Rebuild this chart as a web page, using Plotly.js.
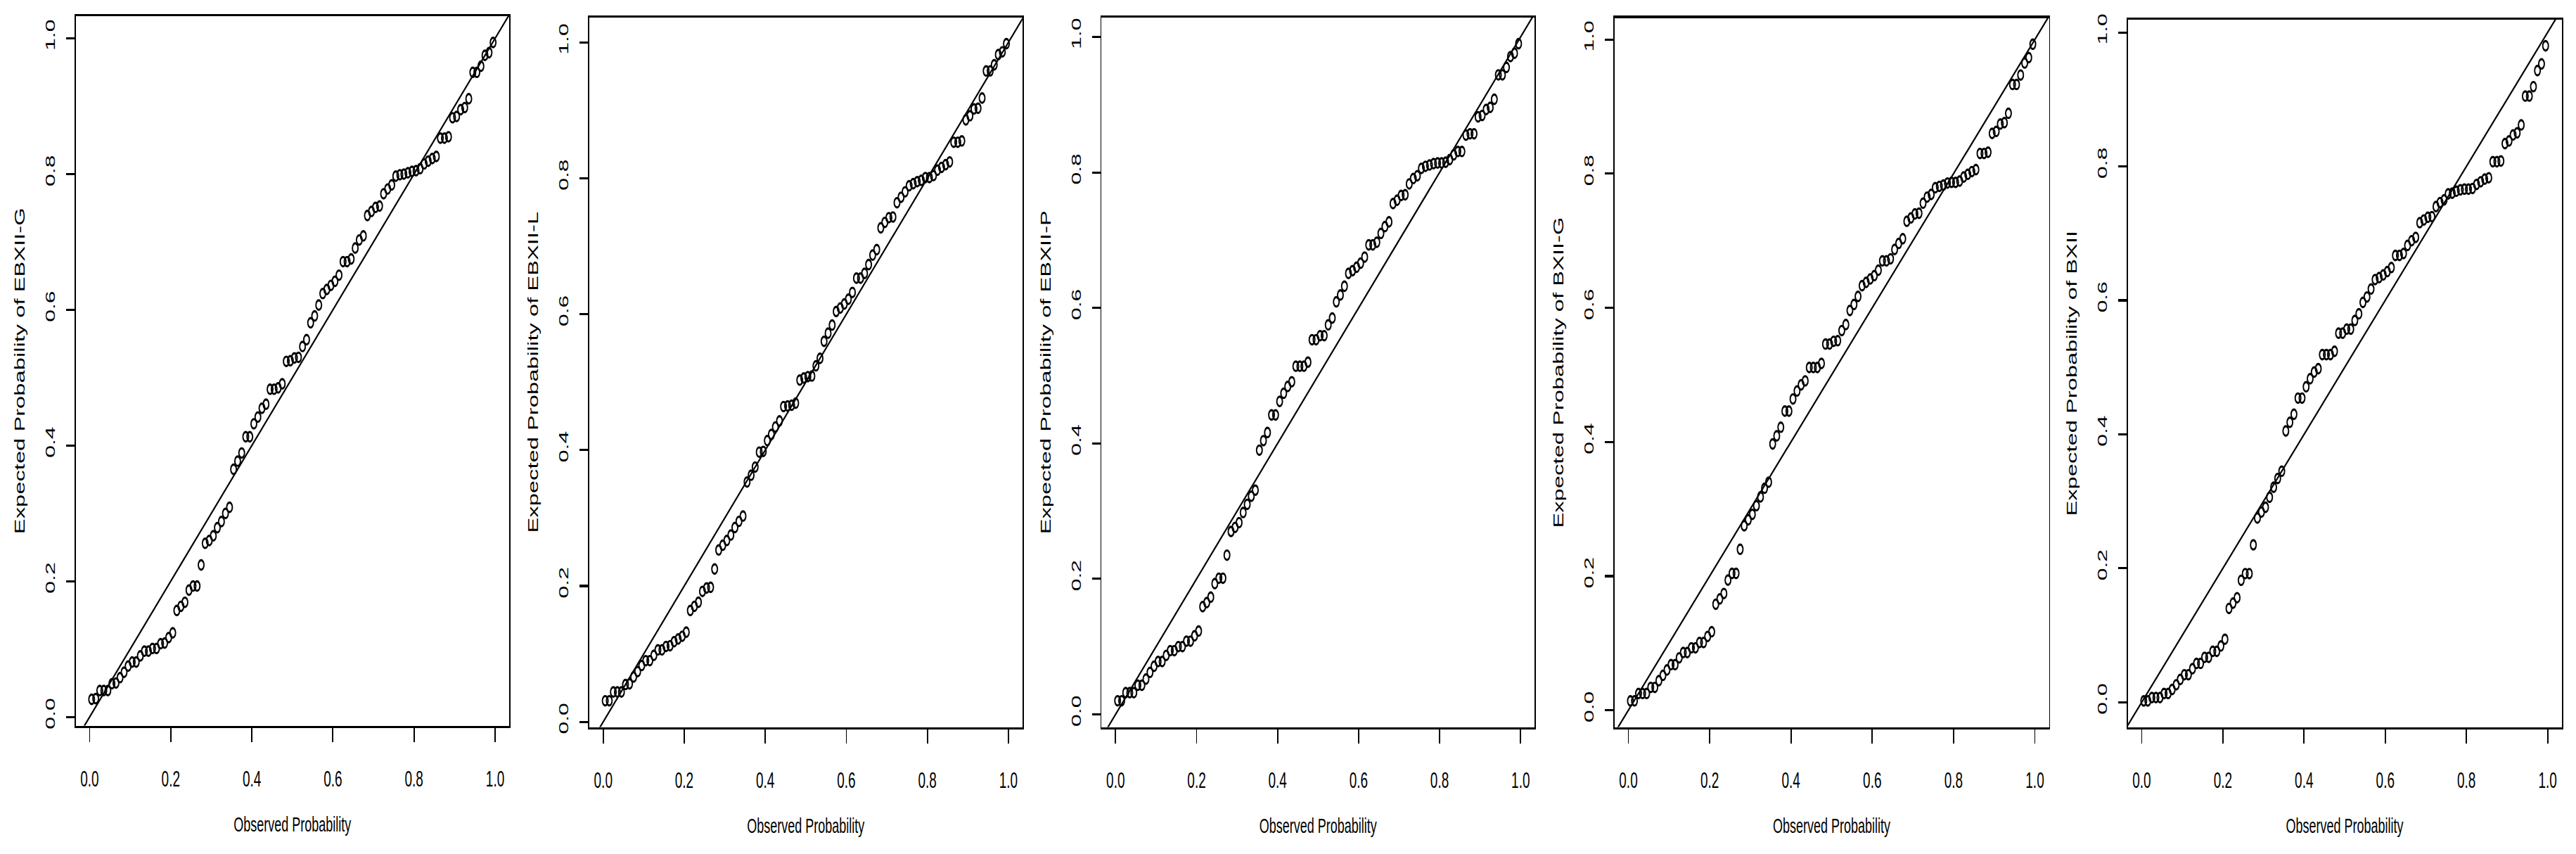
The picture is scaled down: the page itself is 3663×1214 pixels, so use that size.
<!DOCTYPE html>
<html>
<head>
<meta charset="utf-8">
<script src="https://cdn.plot.ly/plotly-3.0.1.min.js"></script>
<style>
  html, body { margin: 0; padding: 0; background: #fff; width: 3663px; height: 1214px; }
  #chart { width: 3663px; height: 723px; transform-origin: 0 0; }
</style>
</head>
<body>
<div id="chart"></div>
<script>
// observed probabilities (plotting positions of the sorted sample)
const observed = [
  0.005, 0.015, 0.025, 0.035, 0.045, 0.055, 0.065, 0.075, 0.085, 0.095,
  0.105, 0.115, 0.125, 0.135, 0.145, 0.155, 0.165, 0.175, 0.185, 0.195,
  0.205, 0.215, 0.225, 0.235, 0.245, 0.255, 0.265, 0.275, 0.285, 0.295,
  0.305, 0.315, 0.325, 0.335, 0.345, 0.355, 0.365, 0.375, 0.385, 0.395,
  0.405, 0.415, 0.425, 0.435, 0.445, 0.455, 0.465, 0.475, 0.485, 0.495,
  0.505, 0.515, 0.525, 0.535, 0.545, 0.555, 0.565, 0.575, 0.585, 0.595,
  0.605, 0.615, 0.625, 0.635, 0.645, 0.655, 0.665, 0.675, 0.685, 0.695,
  0.705, 0.715, 0.725, 0.735, 0.745, 0.755, 0.765, 0.775, 0.785, 0.795,
  0.805, 0.815, 0.825, 0.835, 0.845, 0.855, 0.865, 0.875, 0.885, 0.895,
  0.905, 0.915, 0.925, 0.935, 0.945, 0.955, 0.965, 0.975, 0.985, 0.995
];

// expected probabilities under each fitted model
const ebxiiG = [
  0.026, 0.027, 0.039, 0.039, 0.039, 0.049, 0.050, 0.058, 0.066, 0.075,
  0.081, 0.081, 0.090, 0.097, 0.097, 0.101, 0.101, 0.108, 0.109, 0.117,
  0.124, 0.157, 0.163, 0.169, 0.187, 0.193, 0.193, 0.224, 0.256, 0.260,
  0.267, 0.279, 0.288, 0.300, 0.309, 0.365, 0.377, 0.389, 0.413, 0.413,
  0.432, 0.442, 0.455, 0.461, 0.483, 0.483, 0.485, 0.491, 0.524, 0.525,
  0.529, 0.530, 0.546, 0.556, 0.581, 0.591, 0.607, 0.624, 0.630, 0.636,
  0.642, 0.651, 0.671, 0.671, 0.675, 0.691, 0.703, 0.709, 0.739, 0.745,
  0.751, 0.753, 0.771, 0.778, 0.784, 0.797, 0.799, 0.800, 0.802, 0.804,
  0.805, 0.808, 0.815, 0.819, 0.823, 0.826, 0.853, 0.853, 0.855, 0.883,
  0.885, 0.895, 0.898, 0.911, 0.950, 0.950, 0.959, 0.975, 0.979, 0.994
];
const ebxiiL = [
  0.031, 0.031, 0.044, 0.044, 0.044, 0.055, 0.056, 0.066, 0.074, 0.083,
  0.090, 0.090, 0.098, 0.106, 0.106, 0.111, 0.112, 0.118, 0.122, 0.126,
  0.132, 0.164, 0.170, 0.176, 0.192, 0.197, 0.198, 0.225, 0.253, 0.260,
  0.267, 0.275, 0.286, 0.295, 0.303, 0.353, 0.363, 0.375, 0.397, 0.398,
  0.414, 0.423, 0.434, 0.443, 0.464, 0.465, 0.466, 0.469, 0.503, 0.506,
  0.508, 0.509, 0.524, 0.535, 0.560, 0.572, 0.584, 0.604, 0.609, 0.615,
  0.622, 0.632, 0.653, 0.653, 0.660, 0.673, 0.687, 0.695, 0.727, 0.735,
  0.742, 0.743, 0.764, 0.772, 0.780, 0.789, 0.792, 0.795, 0.797, 0.801,
  0.801, 0.804, 0.812, 0.816, 0.820, 0.824, 0.853, 0.853, 0.855, 0.886,
  0.892, 0.902, 0.903, 0.918, 0.958, 0.958, 0.967, 0.982, 0.986, 0.998
];
const ebxiiP = [
  0.020, 0.020, 0.032, 0.032, 0.032, 0.043, 0.043, 0.052, 0.062, 0.071,
  0.078, 0.078, 0.087, 0.094, 0.094, 0.100, 0.100, 0.108, 0.108, 0.116,
  0.123, 0.159, 0.165, 0.173, 0.193, 0.201, 0.201, 0.235, 0.270, 0.276,
  0.283, 0.298, 0.310, 0.322, 0.331, 0.390, 0.404, 0.416, 0.442, 0.442,
  0.462, 0.474, 0.484, 0.491, 0.514, 0.514, 0.514, 0.520, 0.553, 0.553,
  0.559, 0.559, 0.575, 0.585, 0.609, 0.619, 0.632, 0.651, 0.655, 0.660,
  0.666, 0.675, 0.693, 0.693, 0.697, 0.710, 0.720, 0.727, 0.754, 0.759,
  0.766, 0.767, 0.783, 0.791, 0.795, 0.806, 0.809, 0.811, 0.813, 0.814,
  0.814, 0.815, 0.819, 0.826, 0.831, 0.831, 0.855, 0.857, 0.857, 0.882,
  0.884, 0.893, 0.896, 0.908, 0.944, 0.944, 0.955, 0.971, 0.976, 0.990
];
const bxiiG = [
  0.014, 0.014, 0.025, 0.025, 0.025, 0.034, 0.034, 0.044, 0.052, 0.060,
  0.068, 0.068, 0.078, 0.086, 0.086, 0.093, 0.093, 0.101, 0.101, 0.110,
  0.117, 0.158, 0.166, 0.174, 0.194, 0.204, 0.204, 0.240, 0.275, 0.284,
  0.292, 0.305, 0.318, 0.331, 0.340, 0.397, 0.409, 0.422, 0.446, 0.446,
  0.464, 0.476, 0.485, 0.491, 0.511, 0.511, 0.511, 0.517, 0.546, 0.546,
  0.550, 0.551, 0.566, 0.575, 0.596, 0.605, 0.617, 0.633, 0.638, 0.643,
  0.648, 0.656, 0.670, 0.670, 0.673, 0.687, 0.696, 0.703, 0.729, 0.734,
  0.740, 0.741, 0.756, 0.765, 0.769, 0.779, 0.781, 0.783, 0.786, 0.787,
  0.787, 0.789, 0.795, 0.799, 0.803, 0.806, 0.830, 0.830, 0.832, 0.860,
  0.863, 0.874, 0.876, 0.890, 0.933, 0.933, 0.947, 0.965, 0.973, 0.993
];
const bxii = [
  0.002, 0.002, 0.007, 0.007, 0.007, 0.013, 0.013, 0.019, 0.026, 0.034,
  0.041, 0.041, 0.050, 0.058, 0.058, 0.067, 0.067, 0.076, 0.076, 0.084,
  0.094, 0.140, 0.148, 0.156, 0.182, 0.192, 0.192, 0.235, 0.275, 0.284,
  0.291, 0.306, 0.321, 0.334, 0.345, 0.405, 0.418, 0.430, 0.454, 0.454,
  0.471, 0.483, 0.493, 0.498, 0.519, 0.519, 0.519, 0.524, 0.551, 0.551,
  0.557, 0.557, 0.570, 0.580, 0.597, 0.605, 0.617, 0.631, 0.634, 0.638,
  0.643, 0.649, 0.667, 0.667, 0.670, 0.682, 0.689, 0.694, 0.716, 0.720,
  0.724, 0.725, 0.740, 0.746, 0.750, 0.759, 0.760, 0.763, 0.765, 0.766,
  0.766, 0.767, 0.773, 0.777, 0.781, 0.783, 0.807, 0.807, 0.808, 0.834,
  0.838, 0.847, 0.850, 0.862, 0.905, 0.905, 0.919, 0.943, 0.953, 0.980
];

const models = ["EBXII-G", "EBXII-L", "EBXII-P", "BXII-G", "BXII"];
const expected = [ebxiiG, ebxiiL, ebxiiP, bxiiG, bxii];

const tickVals = [0, 0.2, 0.4, 0.6, 0.8, 1];
const tickText = ["0.0", "0.2", "0.4", "0.6", "0.8", "1.0"];

// the reference is an R device picture stretched vertically,
// so draw it 723px tall and scale it up to 1214px afterwards
const W = 3663, H = 723, FULL_H = 1214, K = FULL_H / H;

// plot boxes in picture pixels: left, right, top, bottom
const boxes = [
  [107.5, 724, 23, 1031.5],
  [837.8, 1453.9, 24.8, 1033.6],
  [1566.4, 2182.2, 24.8, 1033.6],
  [2295.5, 2913.5, 25.5, 1033.6],
  [3025.5, 3642.6, 27.9, 1033.6]
];

// R style axis limits: data range plus 4% each side
function rRange(v) {
  const lo = Math.min(...v), hi = Math.max(...v);
  const pad = 0.04 * (hi - lo);
  return [lo - pad, hi + pad];
}

const fontFam = "Liberation Sans, Arial, Helvetica, sans-serif";
const traces = [];
const layout = {
  width: W,
  height: H,
  margin: { l: 0, r: 0, t: 0, b: 0 },
  showlegend: false,
  paper_bgcolor: "white",
  plot_bgcolor: "white",
  font: { family: fontFam, color: "black", size: 19 }
};

models.forEach((name, i) => {
  const n = i === 0 ? "" : String(i + 1);
  const [l, r, t, b] = boxes[i];
  const xr = rRange(observed);
  const yr = rRange(expected[i]);

  traces.push({
    type: "scatter",
    mode: "markers",
    x: observed,
    y: expected[i],
    xaxis: "x" + n,
    yaxis: "y" + n,
    marker: { symbol: "circle-open", size: 8, color: "black", line: { width: 1.9 } },
    name: name
  });

  // 45 degree reference line across the whole box
  const ends = [Math.min(xr[0], yr[0]), Math.max(xr[1], yr[1])];
  traces.push({
    type: "scatter",
    mode: "lines",
    x: ends,
    y: ends,
    xaxis: "x" + n,
    yaxis: "y" + n,
    line: { color: "black", width: 1.8 },
    hoverinfo: "skip"
  });

  const axisBase = {
    showline: true,
    mirror: true,
    linecolor: "black",
    linewidth: 1.9,
    ticks: "outside",
    ticklen: 12,
    tickwidth: 1.9,
    tickcolor: "black",
    showgrid: false,
    zeroline: false,
    tickvals: tickVals,
    ticktext: tickText,
    tickfont: { family: fontFam, size: 19, color: "black" }
  };

  layout["xaxis" + n] = Object.assign({}, axisBase, {
    domain: [l / W, r / W],
    range: xr,
    anchor: "y" + n,
    ticklabelstandoff: 15,
    title: { text: "Observed Probability", font: { size: 18 }, standoff: 22 }
  });
  layout["yaxis" + n] = Object.assign({}, axisBase, {
    domain: [1 - b / FULL_H, 1 - t / FULL_H],
    range: yr,
    anchor: "x" + n,
    tickangle: -90,
    ticklabelstandoff: 8,
    title: { text: "Expected Probability of " + name, font: { size: 19.5 }, standoff: 20 }
  });
});

const el = document.getElementById("chart");
Plotly.newPlot(el, traces, layout, { displayModeBar: false, staticPlot: true }).then(() => {
  el.style.transform = "scaleY(" + K + ")";
});
</script>
</body>
</html>
